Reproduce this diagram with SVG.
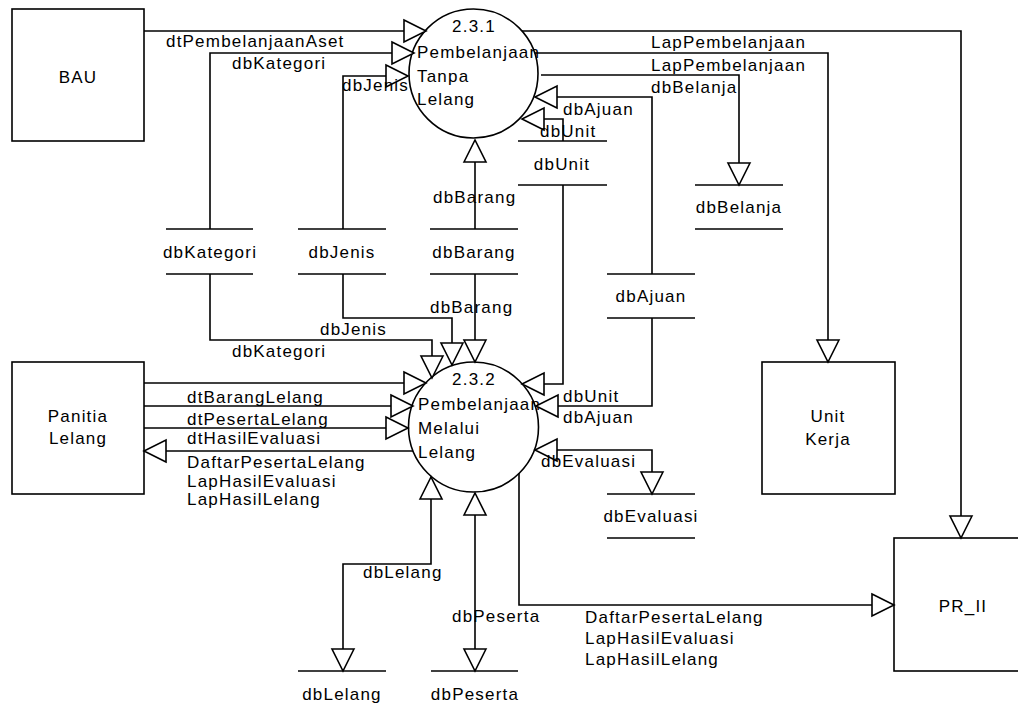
<svg xmlns="http://www.w3.org/2000/svg" width="1018" height="713" viewBox="0 0 1018 713">
<style>
.ln{fill:none;stroke:#000;stroke-width:1.6}
.box{fill:#fff;stroke:#000;stroke-width:1.6}
.st{stroke:#000;stroke-width:1.6}
.t{font-family:"Liberation Sans",Arial,sans-serif;font-size:17px;letter-spacing:1.2px;fill:#000}
.c{text-anchor:middle}
.a{marker-end:url(#ah)}
.b{marker-start:url(#ah);marker-end:url(#ah)}
</style>
<defs>
<marker id="ah" markerUnits="userSpaceOnUse" markerWidth="26" markerHeight="26" viewBox="-2 -2 26 26" refX="22" refY="11" orient="auto-start-reverse" overflow="visible">
<path d="M0,0 L22,11 L0,22 Z" fill="#fff" stroke="#000" stroke-width="1.6"/>
</marker>
</defs>
<rect width="1018" height="713" fill="#fff"/>

<g id="BAU"><rect class="box" x="12" y="9" width="132" height="132"/><text class="t c" x="78" y="83">BAU</text></g>
<g id="PanitiaLelang"><rect class="box" x="12" y="362" width="132" height="132"/><text class="t c" x="78" y="422">Panitia</text><text class="t c" x="78" y="444">Lelang</text></g>
<g id="UnitKerja"><rect class="box" x="762" y="362" width="133" height="132"/><text class="t c" x="828" y="422">Unit</text><text class="t c" x="828" y="445">Kerja</text></g>
<g id="PR_II"><rect class="box" x="894" y="538" width="132" height="133"/><text class="t c" x="963" y="612">PR_II</text></g>

<g id="P231"><circle class="box" cx="473.5" cy="73.5" r="64.5"/><text class="t c" x="474" y="32">2.3.1</text><text class="t" x="417" y="58">Pembelanjaan</text><text class="t" x="417" y="82">Tanpa</text><text class="t" x="417" y="105">Lelang</text></g>
<g id="P232"><circle class="box" cx="473.5" cy="427" r="65"/><text class="t c" x="474" y="385">2.3.2</text><text class="t" x="418" y="410">Pembelanjaan</text><text class="t" x="418" y="434">Melalui</text><text class="t" x="418" y="458">Lelang</text></g>

<g id="dbKategori"><line class="st" x1="166" y1="229" x2="253" y2="229"/><line class="st" x1="166" y1="274" x2="253" y2="274"/><text class="t c" x="210" y="258">dbKategori</text></g>
<g id="dbJenis"><line class="st" x1="298" y1="229" x2="386" y2="229"/><line class="st" x1="298" y1="274" x2="386" y2="274"/><text class="t c" x="342" y="258">dbJenis</text></g>
<g id="dbBarang"><line class="st" x1="430" y1="229" x2="518" y2="229"/><line class="st" x1="430" y1="274" x2="518" y2="274"/><text class="t c" x="474" y="258">dbBarang</text></g>
<g id="dbUnit"><line class="st" x1="518" y1="141" x2="607" y2="141"/><line class="st" x1="518" y1="185" x2="607" y2="185"/><text class="t c" x="562" y="170">dbUnit</text></g>
<g id="dbBelanja"><line class="st" x1="695" y1="185" x2="783" y2="185"/><line class="st" x1="695" y1="229" x2="783" y2="229"/><text class="t c" x="739" y="213">dbBelanja</text></g>
<g id="dbAjuan"><line class="st" x1="607" y1="274" x2="695" y2="274"/><line class="st" x1="607" y1="318" x2="695" y2="318"/><text class="t c" x="651" y="302">dbAjuan</text></g>
<g id="dbEvaluasi"><line class="st" x1="607" y1="494" x2="695" y2="494"/><line class="st" x1="607" y1="538" x2="695" y2="538"/><text class="t c" x="651" y="522">dbEvaluasi</text></g>
<g id="dbLelang"><line class="st" x1="298" y1="671" x2="386" y2="671"/><line class="st" x1="298" y1="715" x2="386" y2="715"/><text class="t c" x="342" y="700">dbLelang</text></g>
<g id="dbPeserta"><line class="st" x1="431" y1="671" x2="518" y2="671"/><line class="st" x1="431" y1="715" x2="518" y2="715"/><text class="t c" x="475" y="700">dbPeserta</text></g>

<g id="connectors">
<path class="ln a" d="M144,31 H426"/>
<path class="ln a" d="M210,229 V53 H414"/>
<path class="ln a" d="M343,229 V76 H408"/>
<path class="ln a" d="M475,229 V140"/>
<path class="ln a" d="M563,141 V119 H522"/>
<path class="ln a" d="M652,274 V97 H535"/>
<path class="ln a" d="M541,75 H739 V185"/>
<path class="ln a" d="M535,53 H828 V362"/>
<path class="ln a" d="M522,31 H961 V538"/>
<path class="ln a" d="M210,274 V340 H432 V378"/>
<path class="ln a" d="M343,274 V318 H452 V365"/>
<path class="ln a" d="M475,274 V362"/>
<path class="ln a" d="M563,185 V384 H522"/>
<path class="ln a" d="M652,318 V406 H536"/>
<path class="ln b" d="M535,450 H652 V494"/>
<path class="ln a" d="M144,383 H426"/>
<path class="ln a" d="M144,406 H413"/>
<path class="ln a" d="M144,428 H408"/>
<path class="ln a" d="M413,451 H144"/>
<path class="ln a" d="M519,473 V605 H894"/>
<path class="ln b" d="M431,477 V564 H343 V671"/>
<path class="ln b" d="M475,493 V671"/>
<g id="labels">
<text class="t" x="166" y="47">dtPembelanjaanAset</text>
<text class="t" x="232" y="69">dbKategori</text>
<text class="t" x="342" y="91">dbJenis</text>
<text class="t" x="433" y="203">dbBarang</text>
<text class="t" x="540" y="137">dbUnit</text>
<text class="t" x="563" y="115">dbAjuan</text>
<text class="t" x="651" y="48">LapPembelanjaan</text>
<text class="t" x="651" y="71">LapPembelanjaan</text>
<text class="t" x="651" y="93">dbBelanja</text>
<text class="t" x="430" y="313">dbBarang</text>
<text class="t" x="320" y="335">dbJenis</text>
<text class="t" x="232" y="357">dbKategori</text>
<text class="t" x="563" y="402">dbUnit</text>
<text class="t" x="563" y="423">dbAjuan</text>
<text class="t" x="541" y="467">dbEvaluasi</text>
<text class="t" x="187" y="403">dtBarangLelang</text>
<text class="t" x="187" y="425">dtPesertaLelang</text>
<text class="t" x="187" y="444">dtHasilEvaluasi</text>
<text class="t" x="187" y="468">DaftarPesertaLelang</text>
<text class="t" x="187" y="487">LapHasilEvaluasi</text>
<text class="t" x="187" y="505">LapHasilLelang</text>
<text class="t" x="363" y="578">dbLelang</text>
<text class="t" x="452" y="622">dbPeserta</text>
<text class="t" x="585" y="623">DaftarPesertaLelang</text>
<text class="t" x="585" y="644">LapHasilEvaluasi</text>
<text class="t" x="585" y="665">LapHasilLelang</text>
</g>
</g>
</svg>
